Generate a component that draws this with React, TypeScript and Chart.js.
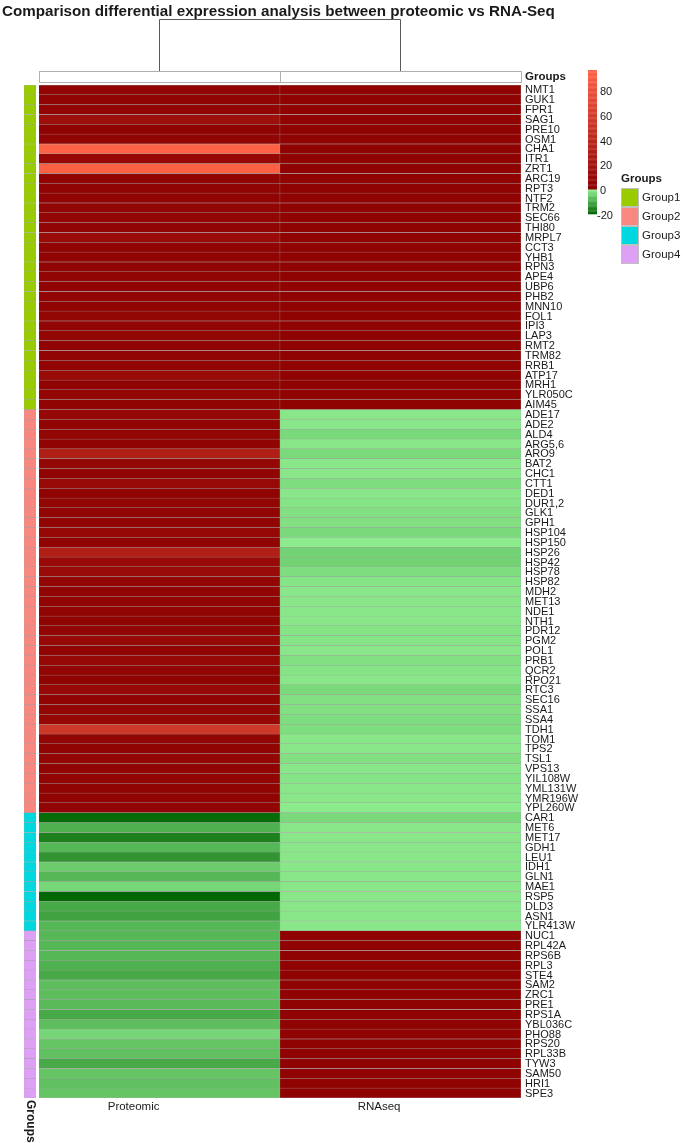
import React, { useEffect, useRef } from "react";
import { Chart, registerables } from "chart.js";
Chart.register(...registerables);

const TITLE = "Comparison differential expression analysis between proteomic vs RNA-Seq";
const conditions = ["Proteomic", "RNAseq"];

const genes = [
  "NMT1","GUK1","FPR1","SAG1","PRE10","OSM1","CHA1","ITR1","ZRT1","ARC19","RPT3","NTF2","TRM2","SEC66","THI80","MRPL7","CCT3","YHB1","RPN3","APE4","UBP6","PHB2","MNN10","FOL1","IPI3","LAP3","RMT2","TRM82","RRB1","ATP17","MRH1","YLR050C","AIM45",
  "ADE17","ADE2","ALD4","ARG5,6","ARO9","BAT2","CHC1","CTT1","DED1","DUR1,2","GLK1","GPH1","HSP104","HSP150","HSP26","HSP42","HSP78","HSP82","MDH2","MET13","NDE1","NTH1","PDR12","PGM2","POL1","PRB1","QCR2","RPO21","RTC3","SEC16","SSA1","SSA4","TDH1","TOM1","TPS2","TSL1","VPS13","YIL108W","YML131W","YMR196W","YPL260W",
  "CAR1","MET6","MET17","GDH1","LEU1","IDH1","GLN1","MAE1","RSP5","DLD3","ASN1","YLR413W",
  "NUC1","RPL42A","RPS6B","RPL3","STE4","SAM2","ZRC1","PRE1","RPS1A","YBL036C","PHO88","RPS20","RPL33B","TYW3","SAM50","HRI1","SPE3"
];

const groupNames = ["Group1", "Group2", "Group3", "Group4"];
const groupCounts = [33, 41, 12, 17];
const groupColors = ["#99CC00", "#F8877F", "#00D8E0", "#DDA0F5"];

const proteomic = [
  4,4,5,15,3,5,95,8,93,3,4,4,5,6,5,12,4,4,4,5,4,5,4,6,5,6,4,5,4,11,4,6,4,
  8,4,6,4,30,7,4,9,3,6,5,5,8,4,30,10,11,6,5,4,4,4,5,9,4,8,5,3,9,4,6,8,55,5,4,6,4,5,4,4,5,
  -19,-9,-16,-8,-13,-5,-8,-3.5,-19.5,-10,-11,-8,
  -8,-8,-8,-9,-10,-7,-7,-7.5,-10,-7,-3.5,-6,-6.5,-10,-6,-6.5,-6
];

const rnaseq = [
  3,3,3,3,3,3,3,3,3,3,3,3,3,3,3,3,3,3,3,3,3,3,3,3,3,3,3,3,3,3,3,3,3,
  -1,-1,-3,-1,-3,-1,-1,-2.5,-1,-1.5,-2,-2,-3,-0.5,-4,-4,-2.5,-1.5,-1,-1,-1,-1,-1.5,-1.5,-1,-2,-1.5,-1,-3,-2,-2,-2.5,-2.5,-1,-1,-2,-1,-1.5,-1,-1,-0.5,
  -3,-1,-1,-1,-1,-1,-1,-1,-1,-1,-1,-1,
  3,3,3,3,3,3,3,3,3,3,3,3,3,3,3,3,3
];

const colorbarTicks = [80, 60, 40, 20, 0, -20];
const SCALE_MIN = -20;
const SCALE_MAX = 96;

const LOW_COL = [0, 100, 0];
const ZERO_GREEN = [144, 238, 144];
const ZERO_RED = [139, 0, 0];
const HIGH_COL = [255, 99, 71];

function lerp(a: number[], b: number[], t: number) {
  const c = a.map((v, i) => Math.round(v + (b[i] - v) * Math.max(0, Math.min(1, t))));
  return `rgb(${c[0]},${c[1]},${c[2]})`;
}
function colorFor(v: number) {
  if (v < 0) return lerp(LOW_COL, ZERO_GREEN, (v - SCALE_MIN) / (0 - SCALE_MIN));
  return lerp(ZERO_RED, HIGH_COL, v / SCALE_MAX);
}

const geneGroup: number[] = [];
groupCounts.forEach((n, g) => { for (let i = 0; i < n; i++) geneGroup.push(g); });

const FONT = "'Liberation Sans', Arial, sans-serif";
const CELL_BORDER = "#a3a3a3";

export default function App() {
  const ref = useRef<HTMLCanvasElement | null>(null);
  useEffect(() => {
    document.body.style.margin = "0";
    const canvas = ref.current!;
    const ANN_L = -0.0622;
    const ANN_R = -0.0124;

    const overlay = {
      id: "overlay",
      afterDraw(chart: any) {
        const ctx = chart.ctx as CanvasRenderingContext2D;
        const xs = chart.scales.x;
        const ys = chart.scales.y;
        const area = chart.chartArea;
        const x0 = xs.getPixelForValue(0), x1 = xs.getPixelForValue(1), x2 = xs.getPixelForValue(2);
        ctx.save();
        ctx.fillStyle = "#1a1a1a";
        // title
        ctx.font = `bold 15.2px ${FONT}`;
        ctx.textAlign = "left";
        ctx.textBaseline = "middle";
        ctx.fillText(TITLE, 2, 12);
        // dendrogram
        const dTop = 19, dBot = 71;
        ctx.strokeStyle = "#5a5a5a";
        ctx.lineWidth = 1;
        const c0 = Math.round(xs.getPixelForValue(0.5)) + 0.5;
        const c1 = Math.round(xs.getPixelForValue(1.5)) + 0.5;
        ctx.beginPath();
        ctx.moveTo(c0, dBot); ctx.lineTo(c0, dTop + 0.5); ctx.lineTo(c1, dTop + 0.5); ctx.lineTo(c1, dBot);
        ctx.stroke();
        // column annotation
        ctx.fillStyle = "#ffffff";
        ctx.strokeStyle = "#b0b0b0";
        [[x0, x1], [x1, x2]].forEach(([a, b]) => {
          ctx.fillRect(a, 71, b - a, 12);
          ctx.strokeRect(Math.round(a) + 0.5, 71.5, Math.round(b - a), 11);
        });
        ctx.fillStyle = "#1a1a1a";
        ctx.font = `bold 11.5px ${FONT}`;
        ctx.fillText("Groups", 525, 77);
        // gene labels
        ctx.font = `11px ${FONT}`;
        genes.forEach((g, i) => {
          ctx.fillText(g, 525, ys.getPixelForValue(i) + 0.5);
        });
        // column labels
        ctx.font = `11.5px ${FONT}`;
        ctx.textAlign = "right";
        conditions.forEach((c, i) => {
          ctx.fillText(c, xs.getPixelForValue(i + 0.5), area.bottom + 9);
        });
        // vertical Groups label
        ctx.save();
        ctx.translate(xs.getPixelForValue((ANN_L + ANN_R) / 2), area.bottom + 2);
        ctx.rotate(Math.PI / 2);
        ctx.textAlign = "left";
        ctx.font = `bold 12px ${FONT}`;
        ctx.fillText("Groups", 0, 0);
        ctx.restore();
        // colorbar
        const cbL = 588, cbR = 597, cbT = 70, cbB = 214;
        const pxPerUnit = (cbB - cbT) / (SCALE_MAX - SCALE_MIN);
        const yOf = (v: number) => cbB - (v - SCALE_MIN) * pxPerUnit;
        const steps = 116;
        for (let s = 0; s < steps; s++) {
          const v = SCALE_MIN + (s + 0.5) * (SCALE_MAX - SCALE_MIN) / steps;
          ctx.fillStyle = colorFor(v);
          const yA = yOf(SCALE_MIN + (s + 1) * (SCALE_MAX - SCALE_MIN) / steps);
          const yB = yOf(SCALE_MIN + s * (SCALE_MAX - SCALE_MIN) / steps);
          ctx.fillRect(cbL, yA, cbR - cbL, yB - yA + 0.3);
        }
        ctx.fillStyle = "#1a1a1a";
        ctx.font = `11px ${FONT}`;
        ctx.textAlign = "left";
        colorbarTicks.forEach((t) => {
          ctx.fillText(String(t), t < 0 ? 597 : 600, yOf(t) + 2);
        });
        // group legend
        ctx.font = `bold 11.5px ${FONT}`;
        ctx.fillText("Groups", 621, 179);
        groupNames.forEach((g, i) => {
          const top = 188 + i * 19;
          ctx.fillStyle = groupColors[i];
          ctx.fillRect(621, top, 18, 19);
          ctx.strokeStyle = "#c0c0c0";
          ctx.strokeRect(621.5, top + 0.5, 17, 18);
          ctx.fillStyle = "#1a1a1a";
          ctx.font = `11.5px ${FONT}`;
          ctx.fillText(g, 642, top + 10);
        });
        ctx.restore();
      },
    };

    const chart = new Chart(canvas, {
      type: "bar",
      data: {
        labels: genes,
        datasets: [
          {
            label: "Groups",
            data: genes.map(() => [ANN_L, ANN_R]) as any,
            backgroundColor: geneGroup.map((g) => groupColors[g]),
            borderColor: CELL_BORDER,
            borderWidth: 0.5,
            grouped: false,
            barPercentage: 1,
            categoryPercentage: 1,
          } as any,
          {
            label: conditions[0],
            data: genes.map(() => [0, 1]) as any,
            backgroundColor: proteomic.map(colorFor),
            borderColor: CELL_BORDER,
            borderWidth: 0.5,
            grouped: false,
            barPercentage: 1,
            categoryPercentage: 1,
          } as any,
          {
            label: conditions[1],
            data: genes.map(() => [1, 2]) as any,
            backgroundColor: rnaseq.map(colorFor),
            borderColor: CELL_BORDER,
            borderWidth: 0.5,
            grouped: false,
            barPercentage: 1,
            categoryPercentage: 1,
          } as any,
        ],
      },
      options: {
        indexAxis: "y",
        responsive: false,
        animation: false,
        devicePixelRatio: 1,
        layout: { padding: { left: 24, top: 85, right: 164, bottom: 45 } },
        plugins: { legend: { display: false }, tooltip: { enabled: false }, title: { display: false } },
        scales: {
          x: { type: "linear", min: ANN_L, max: 2, display: false },
          y: { type: "category", display: false, offset: true },
        },
      },
      plugins: [overlay],
    });
    return () => chart.destroy();
  }, []);

  return (
    <div style={{ width: 685, height: 1143, position: "relative", background: "#fff" }}>
      <canvas ref={ref} width={685} height={1143} style={{ width: 685, height: 1143, display: "block" }} />
    </div>
  );
}
